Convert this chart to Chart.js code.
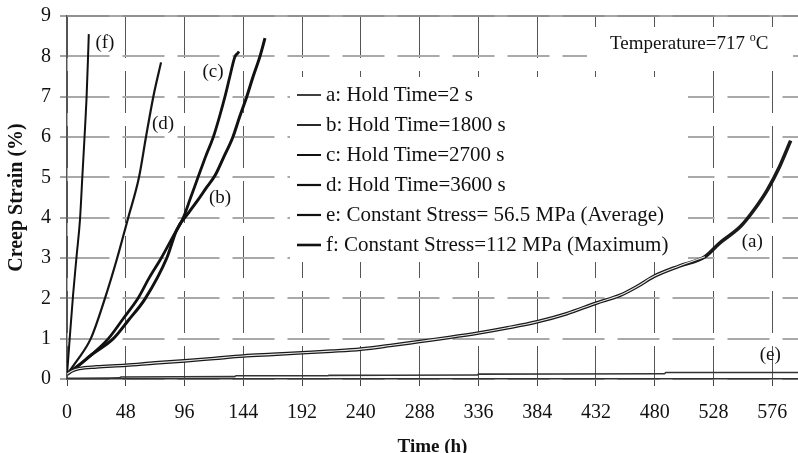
<!DOCTYPE html>
<html>
<head>
<meta charset="utf-8">
<script src="https://cdn.jsdelivr.net/npm/chart.js@4/dist/chart.umd.min.js"></script>
<style>
  html, body { margin: 0; padding: 0; background: #ffffff; }
  #wrap { width: 798px; height: 453px; }
</style>
</head>
<body>
<div id="wrap"><canvas id="creep" width="798" height="453"></canvas></div>
<script>
// ---- data ---------------------------------------------------------------
const seriesLabels = [
  'a: Hold Time=2 s',
  'b: Hold Time=1800 s',
  'c: Hold Time=2700 s',
  'd: Hold Time=3600 s',
  'e: Constant Stress= 56.5 MPa (Average)',
  'f: Constant Stress=112 MPa (Maximum)'
];
const curveTags = ['(a)', '(b)', '(c)', '(d)', '(e)', '(f)'];

const xTickValues = [0, 48, 96, 144, 192, 240, 288, 336, 384, 432, 480, 528, 576];
const yTickValues = [0, 1, 2, 3, 4, 5, 6, 7, 8, 9];

// time (h) / creep strain (%)
const timeA = [0, 4, 10, 24, 48, 72, 96, 120, 144, 168, 192, 216, 240, 264, 288, 312, 336, 360, 384, 408, 432, 452, 466, 479, 500, 521, 533, 550, 561, 572, 582, 591];
const strainA = [0.12, 0.2, 0.26, 0.3, 0.34, 0.4, 0.45, 0.51, 0.57, 0.61, 0.65, 0.69, 0.74, 0.83, 0.93, 1.03, 1.14, 1.27, 1.42, 1.62, 1.88, 2.08, 2.3, 2.54, 2.8, 3.03, 3.37, 3.78, 4.19, 4.69, 5.27, 5.91];

const timeB = [0, 10, 20, 37.8, 50, 64, 81.5, 89.6, 100, 107, 114, 121, 128, 135.5, 141, 146.8, 152, 157.6, 161.7];
const strainB = [0.12, 0.35, 0.6, 1.0, 1.45, 2.0, 3.0, 3.7, 4.15, 4.44, 4.75, 5.05, 5.5, 6.0, 6.5, 7.0, 7.5, 8.0, 8.45];

const timeC = [0, 10, 20, 33.8, 46, 58, 67, 77, 86, 95, 101, 107, 113, 119.5, 124.5, 129, 133, 137, 139.5, 140.5];
const strainC = [0.12, 0.35, 0.6, 1.0, 1.5, 2.0, 2.5, 3.0, 3.5, 4.0, 4.5, 5.0, 5.5, 6.0, 6.5, 7.0, 7.5, 7.98, 8.08, 8.12];

const timeD = [0, 8, 19.4, 31, 41, 50, 58.8, 64.5, 70.5, 76.8];
const strainD = [0.12, 0.45, 1.0, 2.0, 3.0, 4.0, 5.0, 6.0, 7.0, 7.85];

const timeE = [0, 43, 44, 137, 138, 213, 214, 335, 336, 488, 489, 597];
const strainE = [0.02, 0.03, 0.05, 0.06, 0.08, 0.08, 0.09, 0.1, 0.12, 0.13, 0.16, 0.16];

const timeF = [0, 2.2, 5, 8, 10.6, 12.5, 14.5, 16, 17.2, 17.8];
const strainF = [0.1, 1.0, 2.1, 3.1, 3.95, 5.0, 6.1, 7.0, 8.0, 8.55];

// curve tags are anchored in data units (h, %)
const tagTime = [559.7, 125, 119.3, 78.4, 574.4, 31];
const tagStrain = [3.4, 4.49, 7.62, 6.33, 0.6, 8.34];

// ---- helpers -------------------------------------------------------------
const toPoints = (xs, ys) => xs.map((x, i) => ({ x: x, y: ys[i] }));
const SERIF = "'Liberation Serif', 'Times New Roman', serif";
const INK = '#111111';

const lineStyle = (color, width) => ({
  borderColor: color,
  backgroundColor: color,
  borderWidth: width,
  pointRadius: 0,
  pointHoverRadius: 0,
  fill: false,
  cubicInterpolationMode: 'monotone'
});

// hollow core of curve (a) up to its kink
const kinkIndex = timeA.indexOf(521);

const datasets = [
  Object.assign({ label: seriesLabels[0], data: toPoints(timeA, strainA) }, lineStyle('#1a1a1a', 3.6)),
  Object.assign({ label: seriesLabels[1], data: toPoints(timeB, strainB) }, lineStyle('#111111', 3.0)),
  Object.assign({ label: seriesLabels[2], data: toPoints(timeC, strainC) }, lineStyle('#111111', 2.8)),
  Object.assign({ label: seriesLabels[3], data: toPoints(timeD, strainD) }, lineStyle('#151515', 2.2)),
  Object.assign({ label: seriesLabels[4], data: toPoints(timeE, strainE) }, lineStyle('#333333', 1.6)),
  Object.assign({ label: seriesLabels[5], data: toPoints(timeF, strainF) }, lineStyle('#111111', 2.0)),
  Object.assign({ label: 'a-core', data: toPoints(timeA.slice(0, kinkIndex + 1), strainA.slice(0, kinkIndex + 1)), order: -1 }, lineStyle('#e8e8e8', 1.1))
];

// ---- plugins -------------------------------------------------------------
const panelPlugin = {
  id: 'panels',
  beforeDatasetsDraw(chart) {
    const { ctx, chartArea: a } = chart;
    ctx.save();
    // top frame line
    ctx.strokeStyle = '#8a8a8a';
    ctx.lineWidth = 1.5;
    ctx.beginPath();
    ctx.moveTo(a.left, a.top);
    ctx.lineTo(a.right, a.top);
    ctx.stroke();

    // temperature note
    ctx.fillStyle = '#ffffff';
    ctx.fillRect(587, 27, 206, 43);
    ctx.fillStyle = INK;
    ctx.textBaseline = 'middle';
    ctx.textAlign = 'left';
    ctx.font = '19px ' + SERIF;
    const main = 'Temperature=717 ';
    ctx.fillText(main, 610, 44);
    let x = 610 + ctx.measureText(main).width;
    ctx.font = '12px ' + SERIF;
    ctx.fillText('o', x, 38);
    x += ctx.measureText('o').width;
    ctx.font = '19px ' + SERIF;
    ctx.fillText('C', x, 44);

    // legend
    ctx.fillStyle = '#ffffff';
    ctx.fillRect(290, 77, 398, 185);
    const sampleWidths = [1.6, 1.8, 2.0, 2.2, 2.2, 2.6];
    seriesLabels.forEach((label, i) => {
      const y = 95 + i * 30;
      ctx.strokeStyle = INK;
      ctx.lineWidth = sampleWidths[i];
      ctx.beginPath();
      ctx.moveTo(297, y);
      ctx.lineTo(321, y);
      ctx.stroke();
      ctx.fillStyle = INK;
      ctx.font = '21px ' + SERIF;
      ctx.fillText(label, 326, y);
    });
    ctx.restore();
  },
  afterDatasetsDraw(chart) {
    const { ctx, scales } = chart;
    ctx.save();
    ctx.fillStyle = INK;
    ctx.font = '19px ' + SERIF;
    ctx.textAlign = 'center';
    ctx.textBaseline = 'middle';
    curveTags.forEach((tag, i) => {
      const px = scales.x.getPixelForValue(tagTime[i]);
      const py = scales.y.getPixelForValue(tagStrain[i]);
      ctx.fillText(tag, px, py);
    });
    ctx.restore();
  }
};

// ---- chart -----------------------------------------------------------------
new Chart(document.getElementById('creep'), {
  type: 'line',
  data: { datasets: datasets },
  plugins: [panelPlugin],
  options: {
    responsive: false,
    animation: false,
    devicePixelRatio: 1,
    layout: { padding: { top: 16, right: 0, bottom: 0, left: 0 } },
    plugins: { legend: { display: false }, tooltip: { enabled: false } },
    scales: {
      x: {
        type: 'linear',
        min: 0,
        max: 597,
        afterBuildTicks: axis => { axis.ticks = xTickValues.map(v => ({ value: v })); },
        afterFit: axis => { axis.height = 74; },
        grid: {
          color: '#555555',
          lineWidth: 1,
          tickLength: 7,
          tickColor: '#444444',
          tickWidth: 1
        },
        border: { display: true, color: '#333333', width: 1.5, dash: [42, 13] },
        ticks: {
          color: INK,
          padding: 3,
          maxRotation: 0,
          autoSkip: false,
          font: { family: SERIF, size: 20, lineHeight: '48px' },
          callback: v => String(v)
        },
        title: {
          display: true,
          text: 'Time (h)',
          color: INK,
          padding: 0,
          font: { family: SERIF, size: 19, weight: 'bold', lineHeight: '12px' }
        }
      },
      y: {
        type: 'linear',
        min: 0,
        max: 9,
        afterBuildTicks: axis => { axis.ticks = yTickValues.map(v => ({ value: v })); },
        afterFit: axis => { axis.width = 67; },
        grid: {
          color: '#a9a9a9',
          lineWidth: 2,
          tickLength: 7,
          tickColor: '#444444',
          tickWidth: 1
        },
        border: { display: true, color: '#555555', width: 1.5, dash: [42, 13] },
        ticks: {
          color: INK,
          padding: 9,
          font: { family: SERIF, size: 20, lineHeight: '12px' },
          callback: v => String(v)
        },
        title: {
          display: true,
          text: 'Creep Strain (%)',
          color: INK,
          padding: { top: 11, bottom: 0 },
          font: { family: SERIF, size: 20, weight: 'bold', lineHeight: '12px' }
        }
      }
    }
  }
});
</script>
</body>
</html>
